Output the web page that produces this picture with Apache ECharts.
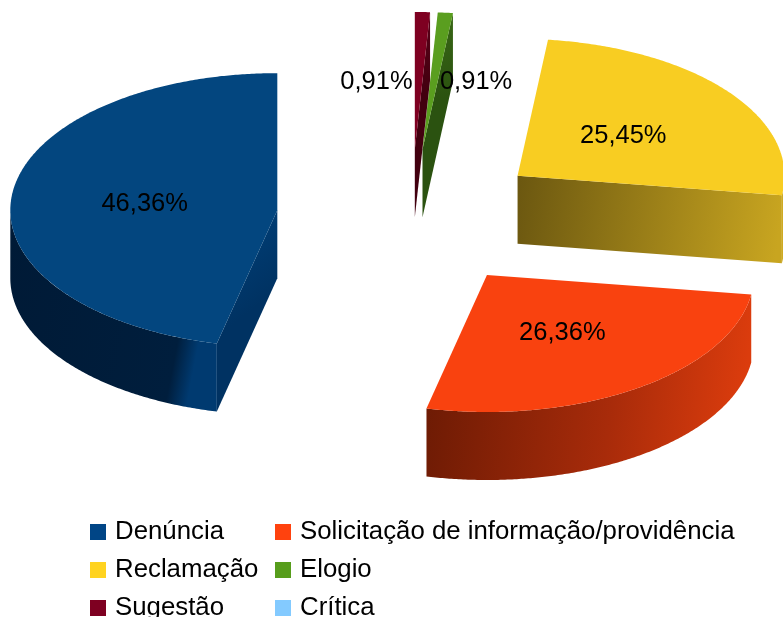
<!DOCTYPE html>
<html><head><meta charset="utf-8">
<script src="https://cdn.jsdelivr.net/npm/echarts@6/dist/echarts.min.js"></script>
<style>html,body{margin:0;padding:0;background:#fff}#c{width:783px;height:617px}</style>
</head><body><div id="c"></div>
<script>
// ---- data ----
const categories = ['Denúncia', 'Solicitação de informação/providência', 'Reclamação', 'Elogio', 'Sugestão', 'Crítica'];
const counts = [51, 29, 28, 1, 1, 0];

// ---- styles ----
const topColors = ['#03467f', '#f9420f', '#f8cd22', '#5a9e1f', '#7e0021', '#83caff'];
const legendColors = ['#004586', '#ff420e', '#ffd320', '#579d1c', '#7e0021', '#83caff'];
const curvedSide = [
  ['#001a36', '#001e3d', '#003a70'],
  ['#6a1a04', '#a82b0a', '#db3c0d'],
  ['#b8961c', '#c4a21f', '#cfab22'],
  ['#2f5a12', '#2f5a12', '#2f5a12'],
  ['#4a0013', '#4a0013', '#4a0013'],
  ['#3c6c90', '#3c6c90', '#3c6c90']
];
const curvedStops = [
  [0, 0.9, 1],
  [0, 0.6, 1],
  [0, 0.5, 1],
  [0, 0.5, 1],
  [0, 0.5, 1],
  [0, 0.5, 1]
];
const radialFace = [
  ['#00427c', '#003262'],
  ['#8a2406', '#c4360c'],
  ['#6b5710', '#c8a520'],
  ['#3a6a16', '#2b5210'],
  ['#5a0018', '#42000f'],
  ['#3c6c90', '#3c6c90']
];
const labelAlign = ['center', 'center', 'center', 'left', 'right', 'center'];

// ---- geometry (layout) ----
const CX = 411, CY = 218, RX = 267, RY = 137, DEPTH = 68, EXPLODE = 0.504;
const total = counts.reduce((a, b) => a + b, 0);
const rad = d => d * Math.PI / 180;

function pt(ax, ay, deg, r) {
  return [ax + RX * r * Math.cos(rad(deg)), ay - RY * r * Math.sin(rad(deg))];
}
function arc(ax, ay, a0, a1) {
  const pts = [];
  const n = Math.max(2, Math.ceil(Math.abs(a1 - a0) / 0.5));
  for (let k = 0; k <= n; k++) pts.push(pt(ax, ay, a0 + (a1 - a0) * k / n, 1));
  return pts;
}
function down(p) { return [p[0], p[1] + DEPTH]; }

function makeRender(i) {
  return function (params, api) {
    const v = api.value(0);
    if (!v) return { type: 'group', children: [] };
    let before = 0;
    for (let k = 0; k < i; k++) before += counts[k];
    const a0 = 90 + before / total * 360;
    const a1 = a0 + v / total * 360;
    const mid = (a0 + a1) / 2;
    const apex = [CX + EXPLODE * RX * Math.cos(rad(mid)), CY - EXPLODE * RY * Math.sin(rad(mid))];
    const children = [];

    // curved side (visible front part: angles in (180,360) mod 360)
    [[180, 360], [540, 720]].forEach(([s, e]) => {
      const lo = Math.max(a0, s), hi = Math.min(a1, e);
      if (hi > lo) {
        const top = arc(apex[0], apex[1], lo, hi);
        const bot = top.slice().reverse().map(down);
        children.push({
          type: 'polygon', shape: { points: top.concat(bot) },
          style: { fill: { type: 'linear', x: 0, y: 0, x2: 1, y2: 0.2, colorStops: [
            { offset: curvedStops[i][0], color: curvedSide[i][0] },
            { offset: curvedStops[i][1], color: curvedSide[i][1] },
            { offset: curvedStops[i][2], color: curvedSide[i][2] }] } }
        });
      }
    });
    // radial faces
    const faces = [];
    if (Math.cos(rad(a0)) > 1e-6) faces.push(a0);
    if (Math.cos(rad(a1)) < -1e-6) faces.push(a1);
    faces.forEach(a => {
      const e = pt(apex[0], apex[1], a, 1);
      children.push({
        type: 'polygon', shape: { points: [apex, e, down(e), down(apex)] },
        style: { fill: { type: 'linear', x: 0, y: 0, x2: 1, y2: 0.4, colorStops: [
          { offset: 0, color: radialFace[i][0] }, { offset: 1, color: radialFace[i][1] }] } }
      });
    });
    // top face
    children.push({
      type: 'polygon', shape: { points: [apex].concat(arc(apex[0], apex[1], a0, a1)) },
      style: { fill: topColors[i] }
    });
    // label
    const lp = pt(apex[0], apex[1], mid, 0.5);
    const al = labelAlign[i];
    const dx = al === 'left' ? 6 : (al === 'right' ? -6 : 0);
    const pct = (v / total * 100).toFixed(2).replace('.', ',') + '%';
    children.push({
      type: 'text', x: lp[0] + dx, y: lp[1] + 1.5, z2: 10,
      style: { text: pct, fill: '#000', fontSize: 25.5, fontFamily: 'Liberation Sans', align: al, verticalAlign: 'middle' }
    });
    return { type: 'group', children };
  };
}

const series = categories.map((name, i) => {
  let before = 0;
  for (let k = 0; k < i; k++) before += counts[k];
  const mid = 90 + (before + counts[i] / 2) / total * 360;
  return {
    type: 'custom', name, coordinateSystem: 'none',
    z: 2 + Math.round((1 - Math.sin(rad(mid))) * 10),
    itemStyle: { color: legendColors[i] },
    data: [[counts[i]]],
    renderItem: makeRender(i),
    silent: true
  };
});

const legendBase = {
  orient: 'vertical', top: 519, height: 200, padding: 0, itemWidth: 16, itemHeight: 16, itemGap: 12,
  icon: 'rect', selectedMode: false,
  textStyle: { fontSize: 25.8, fontFamily: 'Liberation Sans', color: '#000', lineHeight: 25, padding: [0, 0, 0, 4] }
};
const legItem = i => ({ name: categories[i], itemStyle: { color: legendColors[i] } });

const chart = echarts.init(document.getElementById('c'), null, { renderer: 'canvas' });
chart.setOption({
  backgroundColor: '#fff',
  animation: false,
  legend: [
    Object.assign({}, legendBase, { left: 90, data: [legItem(0), legItem(2), legItem(4)] }),
    Object.assign({}, legendBase, { left: 275, data: [legItem(1), legItem(3), legItem(5)] })
  ],
  series
});
</script>
</body></html>
